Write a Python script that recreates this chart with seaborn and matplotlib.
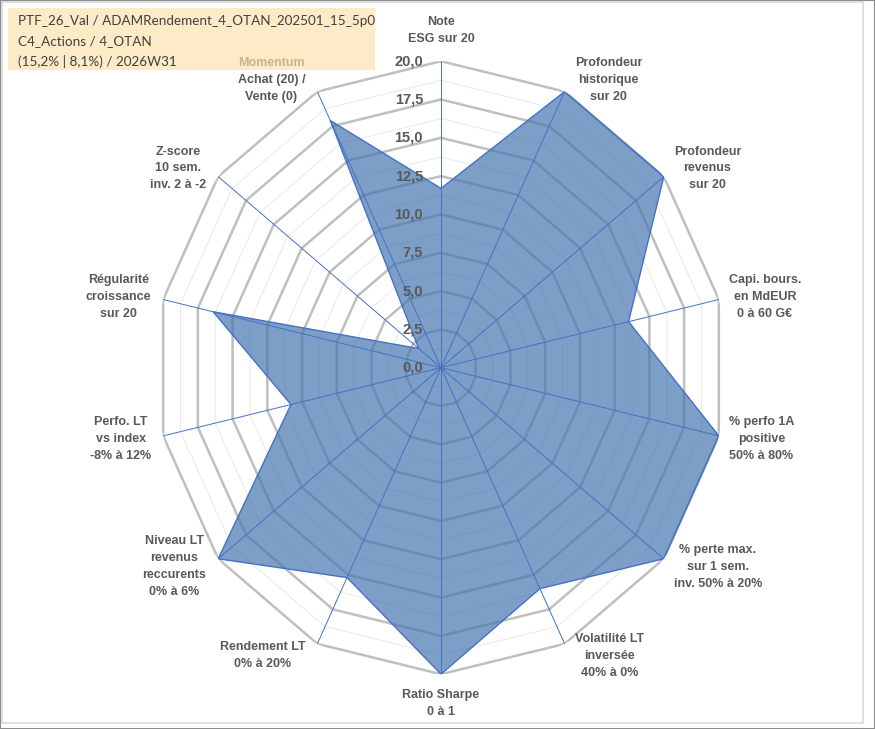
import numpy as np
import pandas as pd
import seaborn as sns
import matplotlib.pyplot as plt
from matplotlib.patches import Rectangle

# chart data
axis_labels = [
    "Note\nESG sur 20",
    "Profondeur\nhistorique\nsur 20",
    "Profondeur\nrevenus\nsur 20",
    "Capi. bours.\nen MdEUR\n0 à 60 G€",
    "% perfo 1A\npositive\n50% à 80%",
    "% perte max.\nsur 1 sem.\ninv. 50% à 20%",
    "Volatilité LT\ninversée\n40% à 0%",
    "Ratio Sharpe\n0 à 1",
    "Rendement LT\n0% à 20%",
    "Niveau LT\nrevenus\nreccurents\n0% à 6%",
    "Perfo. LT\nvs index\n-8% à 12%",
    "Régularité\ncroissance\nsur 20",
    "Z-score\n10 sem.\ninv. 2 à -2",
    "Momentum\nAchat (20) /\nVente (0)",
]
scores = [11.7, 20.0, 20.0, 13.5, 20.0, 20.0, 16.0, 20.0, 15.2, 20.0, 10.8, 16.4, 2.0, 17.9]
r_major = [0.0, 2.5, 5.0, 7.5, 10.0, 12.5, 15.0, 17.5, 20.0]
r_minor = [1.25, 3.75, 6.25, 8.75, 11.25, 13.75, 16.25, 18.75]
title_lines = [
    "PTF_26_Val / ADAMRendement_4_OTAN_202501_15_5p0",
    "C4_Actions / 4_OTAN",
    "(15,2% | 8,1%) / 2026W31",
]

sns.set_theme(style="white")
plt.rcParams['font.family'] = ['Liberation Sans', 'DejaVu Sans']

W, H = 875, 729
fig = plt.figure(figsize=(W / 100, H / 100), dpi=100)
fig.patch.set_facecolor('white')

n = len(axis_labels)
angles = np.arange(n) * 2 * np.pi / n
closed = np.append(angles, 2 * np.pi)

cx, cy, rx, ry = 441, 367.7, 285, 306.5
ax = fig.add_axes([(cx - rx) / W, (H - cy - ry) / H, 2 * rx / W, 2 * ry / H],
                  projection='polar')
ax.set_theta_zero_location('N')
ax.set_theta_direction(-1)
ax.set_aspect('auto')
ax.grid(False)
ax.spines['polar'].set_visible(False)
ax.patch.set_alpha(0)

# polygon grid
for r in r_minor:
    ax.plot(closed, [r] * (n + 1), color='#EBEBEB', lw=0.8, zorder=1)
for r in r_major[1:]:
    ax.plot(closed, [r] * (n + 1), color='#BFBFBF', lw=1.8, zorder=2)

# series
df = pd.DataFrame({"theta": closed, "score": scores + scores[:1]})
ax.fill(df["theta"], df["score"], color='#4676B0', alpha=0.71, lw=0, zorder=3)
sns.lineplot(data=df, x="theta", y="score", sort=False, estimator=None,
             color='#4472C4', lw=1.0, ax=ax, zorder=5)

# spokes
for a in angles:
    ax.plot([a, a], [0, 20], color='#4472C4', lw=0.7, zorder=4)

ax.set_xticks([])
ax.set_yticks([])
ax.set_xlabel("")
ax.set_ylabel("")
ax.set_ylim(0, 20)

# radial values
for t in r_major:
    ax.annotate(f"{t:.1f}".replace('.', ','), xy=(0, t), xytext=(-18, 0),
                textcoords='offset pixels', ha='right', va='center',
                fontsize=10.5, fontweight='bold', color='#595959',
                annotation_clip=False, zorder=6)

# category labels
lab_style = dict(fontsize=9, fontweight='bold', linespacing=1.55,
                 multialignment='center')
label_texts = []
for a, lab in zip(angles, axis_labels):
    s, c = np.sin(a), np.cos(a)
    if abs(s) < 0.1:
        off = (0, 16) if c > 0 else (0, -15)
        ha, va = 'center', ('bottom' if c > 0 else 'top')
    else:
        off = (10 if s > 0 else -12, 13 * c)
        ha, va = ('left' if s > 0 else 'right'), 'center'
    txt = ax.annotate(lab, xy=(a, 20), xytext=off, textcoords='offset pixels',
                      ha=ha, va=va, color='#595959', annotation_clip=False,
                      **lab_style)
    label_texts.append(txt)

# momentum label: first line in a tan colour
fig.canvas.draw()
mom = label_texts[-1]
bb = mom.get_window_extent(fig.canvas.get_renderer())
mom.remove()
head, rest = axis_labels[-1].split("\n", 1)
xc = (bb.x0 + bb.x1) / 2 / W
fig.text(xc, bb.y1 / H, head, ha='center', va='top', color='#C5B68E', **lab_style)
fig.text(xc, bb.y0 / H, rest, ha='center', va='bottom', color='#595959', **lab_style)

# title box
fig.patches.append(Rectangle((8 / W, (H - 70) / H), 367 / W, 62 / H,
                             transform=fig.transFigure, facecolor='#FDEAC6',
                             edgecolor='none', zorder=-1))
for i, line in enumerate(title_lines):
    fig.text(18 / W, 1 - (21 + 20 * i) / H, line, ha='left', va='center',
             fontsize=9.7, family=['Lato', 'DejaVu Sans'], color='#404040')

# chart borders
fig.patches.append(Rectangle((2 / W, 6 / H), 861 / W, 721 / H,
                             transform=fig.transFigure, fill=False,
                             edgecolor='#D9D9D9', lw=1.2))
fig.patches.append(Rectangle((0, 0), 1, 1, transform=fig.transFigure, fill=False,
                             edgecolor='#8C8C8C', lw=1.5))

fig.savefig('out.png', dpi=100)
